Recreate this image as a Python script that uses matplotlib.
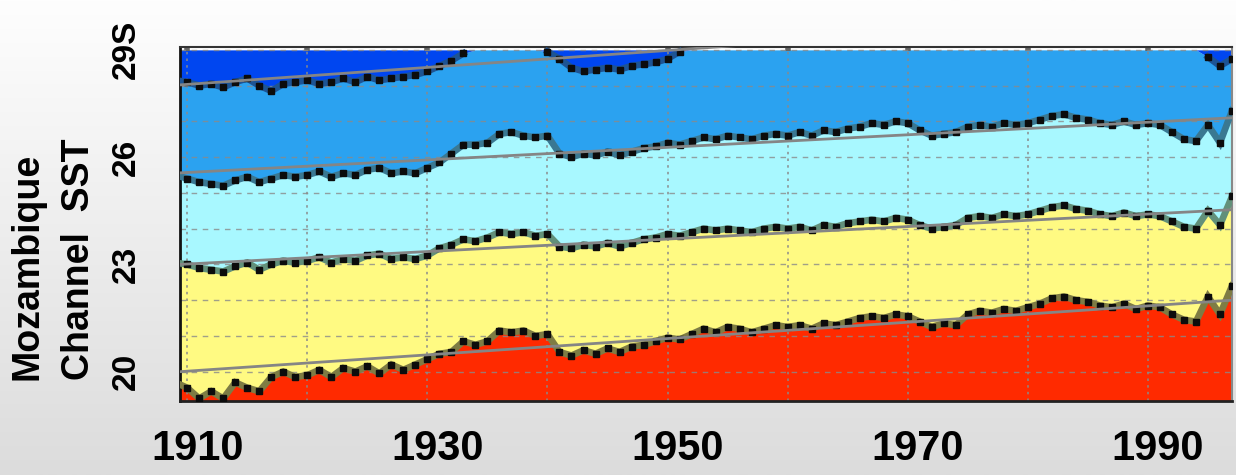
import numpy as np
import matplotlib
matplotlib.use('Agg')
import matplotlib.pyplot as plt
from matplotlib.transforms import ScaledTranslation
from matplotlib.colors import LinearSegmentedColormap

# ---------------- data ----------------
years = np.arange(1909, 1998)

# latitude of each isotherm (bottom -> top)
iso1 = [19.7, 19.55, 19.25, 19.45, 19.25, 19.7, 19.55, 19.45, 19.85, 20.0, 19.85,
        19.9, 20.05, 19.85, 20.1, 20.0, 20.15, 19.95, 20.2, 20.05, 20.2,
        20.35, 20.5, 20.55, 20.85, 20.75, 20.85, 21.15, 21.1, 21.15, 21.0, 21.05,
        20.55, 20.45, 20.6, 20.5, 20.65, 20.55, 20.7,
        20.75, 20.85, 20.95, 20.9,
        21.05, 21.2, 21.1, 21.25, 21.2, 21.1, 21.2, 21.3,
        21.25, 21.3, 21.2, 21.35, 21.3, 21.4, 21.5,
        21.55, 21.5, 21.6, 21.55,
        21.4, 21.25, 21.35, 21.3,
        21.6, 21.7, 21.65, 21.75, 21.7, 21.8,
        21.9, 22.05, 22.1, 22.0, 21.95,
        21.85, 21.8, 21.9, 21.75, 21.85, 21.8,
        21.6, 21.45, 21.4,
        22.1, 21.6, 22.4]

iso2 = [23.05, 23.0, 22.9, 22.85, 22.8, 22.95, 23.05, 22.85, 23.0, 23.1, 23.05,
        23.1, 23.2, 23.05, 23.15, 23.1, 23.25, 23.3, 23.15, 23.2, 23.15,
        23.25, 23.45, 23.55, 23.7, 23.65, 23.75, 23.9, 23.85, 23.9, 23.8, 23.85,
        23.5, 23.45, 23.55, 23.5, 23.6, 23.5, 23.6,
        23.7, 23.75, 23.85, 23.8,
        23.9, 24.0, 23.95, 24.0, 23.95, 23.9, 24.0, 24.05,
        24.0, 24.05, 23.95, 24.1, 24.05, 24.15, 24.2,
        24.25, 24.2, 24.3, 24.25,
        24.1, 24.0, 24.05, 24.1,
        24.3, 24.35, 24.3, 24.4, 24.35, 24.4,
        24.5, 24.6, 24.65, 24.55, 24.5,
        24.4, 24.35, 24.45, 24.35, 24.4, 24.35,
        24.2, 24.05, 24.0,
        24.5, 24.1, 24.9]

iso3 = [25.5, 25.4, 25.3, 25.25, 25.2, 25.35, 25.45, 25.3, 25.4, 25.5, 25.45,
        25.5, 25.6, 25.45, 25.55, 25.5, 25.65, 25.7, 25.55, 25.6, 25.55,
        25.7, 25.85, 26.1, 26.35, 26.35, 26.4, 26.65, 26.7, 26.6, 26.55, 26.6,
        26.1, 26.0, 26.1, 26.05, 26.15, 26.05, 26.15,
        26.25, 26.3, 26.4, 26.35,
        26.45, 26.55, 26.5, 26.6, 26.55, 26.5, 26.6, 26.65,
        26.6, 26.7, 26.6, 26.75, 26.7, 26.8, 26.85,
        26.95, 26.9, 27.0, 26.95,
        26.75, 26.6, 26.65, 26.7,
        26.85, 26.9, 26.85, 26.95, 26.9, 26.95,
        27.05, 27.15, 27.2, 27.1, 27.05,
        26.95, 26.9, 27.0, 26.9, 26.95, 26.9,
        26.7, 26.5, 26.45,
        26.9, 26.4, 27.3]

nan = np.nan
# nan = isotherm lies south of the plotted range
iso4 = [28.15, 28.1, 28.0, 28.05, 27.95, 28.1, 28.2, 28.0, 27.85, 28.05, 28.1,
        28.15, 28.05, 28.1, 28.2, 28.1, 28.25, 28.15, 28.2, 28.25, 28.3,
        28.4, 28.55, 28.7, 28.9, nan, nan, nan, nan, nan, nan, 28.95,
        28.75, 28.5, 28.4, 28.45, 28.5, 28.45, 28.55,
        28.6, 28.65, 28.75, 28.95,
        nan, nan, nan, nan, nan, nan, nan, nan,
        nan, nan, nan, nan, nan, nan, nan,
        nan, nan, nan, nan,
        nan, nan, nan, nan,
        nan, nan, nan, nan, nan, nan,
        nan, nan, nan, nan, nan,
        nan, nan, nan, nan, nan, nan,
        nan, nan, nan,
        28.8, 28.55, 28.75]

# linear trends (start / end of the record)
trend_years = [1909.4, 1997.0]
trend1 = [20.0, 22.0]
trend2 = [23.0, 24.53]
trend3 = [25.56, 27.1]
trend4 = [28.02, 30.1]

xtick_years = [1910, 1920, 1930, 1940, 1950, 1960, 1970, 1980, 1990]
xtick_labels = ['1910', '', '1930', '', '1950', '', '1970', '', '1990']
grid_lats = [20, 21, 22, 23, 24, 25, 26, 27, 28, 29]
ytick_values = [20, 23, 26, 29]
ytick_labels = ['20', '23', '26', '29S']
lat_bottom, lat_top = 19.18, 29.0

# ---------------- drawing ----------------
plt.rcParams['font.family'] = ['Liberation Sans', 'DejaVu Sans']
plt.rcParams['font.weight'] = 'bold'

W, H = 1236, 475
fig = plt.figure(figsize=(W / 100, H / 100), dpi=100)

# gradient background
bg = fig.add_axes([0, 0, 1, 1], zorder=-10)
grad = np.linspace(0, 1, 256).reshape(-1, 1)
cm = LinearSegmentedColormap.from_list('bg', ['#fefefe', '#dcdcdc'])
bg.imshow(grad, aspect='auto', cmap=cm, extent=[0, 1, 0, 1], origin='upper')
bg.axis('off')

ax = fig.add_axes([180 / W, 1 - 401 / H, 1052 / W, 354 / H])
ax.set_facecolor('white')
ax.set_xlim(1909.4, 1997.0)
ax.set_ylim(19.18, 29.08)

yr = np.asarray(years, dtype=float)
c1 = np.asarray(iso1)
c2 = np.asarray(iso2)
c3 = np.asarray(iso3)
c4 = np.asarray(iso4, dtype=float)
c4_fill = np.where(np.isnan(c4), lat_top, np.minimum(c4, lat_top))

colors = ['#ff2a00', '#fffa82', '#a8f8ff', '#2ba2f0', '#0046f0']
ax.fill_between(yr, lat_bottom, c1, color=colors[0], lw=0, zorder=1)
ax.fill_between(yr, c1, c2, color=colors[1], lw=0, zorder=1)
ax.fill_between(yr, c2, c3, color=colors[2], lw=0, zorder=1)
ax.fill_between(yr, c3, c4_fill, color=colors[3], lw=0, zorder=1)
ax.fill_between(yr, c4_fill, lat_top, color=colors[4], lw=0, zorder=1)

# grid
for g in grid_lats:
    ax.axhline(g, color='#8a8a8a', lw=1.0, ls=(0, (4, 4)), alpha=0.8, zorder=2)
for xv in xtick_years:
    ax.axvline(xv, color='#8a8a8a', lw=1.2, ls=(0, (1.5, 2.5)), alpha=0.9, zorder=2)

# isotherm curves
line_cols = ['#7e7c44', '#62907a', '#3a7892', '#1d5494']
for c, lc in zip([c1, c2, c3, c4], line_cols):
    ax.plot(yr, c, color=lc, lw=4.8, zorder=3, solid_joinstyle='miter')
    ax.plot(yr, c, ls='none', marker='s', ms=4.0, color='#0c0c0c', zorder=4)

# trends
for tr in [trend1, trend2, trend3, trend4]:
    ax.plot(trend_years, tr, color='#858585', lw=2.0, zorder=5)

# axes styling
ax.set_xticks(xtick_years)
ax.set_xticklabels(xtick_labels, fontsize=30, fontweight='bold')
ax.tick_params(axis='x', bottom=False, top=True, direction='in', length=3,
               width=4, color='#666666', pad=20)
off = ScaledTranslation(10 / 100, 0, fig.dpi_scale_trans)
for lab in ax.get_xticklabels():
    lab.set_transform(lab.get_transform() + off)

ax.set_yticks(ytick_values)
ax.set_yticklabels(ytick_labels, fontsize=24, fontweight='bold', rotation=90, va='center')
ax.tick_params(axis='y', left=False, pad=24)

for side, col, lw in [('left', '#111111', 2.0), ('bottom', '#222222', 2.0),
                      ('top', '#333333', 1.5), ('right', '#888888', 1.5)]:
    ax.spines[side].set_color(col)
    ax.spines[side].set_linewidth(lw)

fig.text(28 / W, 1 - 380 / H, 'Mozambique', rotation=90, ha='center', va='bottom',
         fontsize=27, fontweight='bold')
fig.text(79 / W, 1 - 380 / H, 'Channel  SST', rotation=90, ha='center', va='bottom',
         fontsize=27, fontweight='bold')

fig.savefig('out.png', dpi=100)
